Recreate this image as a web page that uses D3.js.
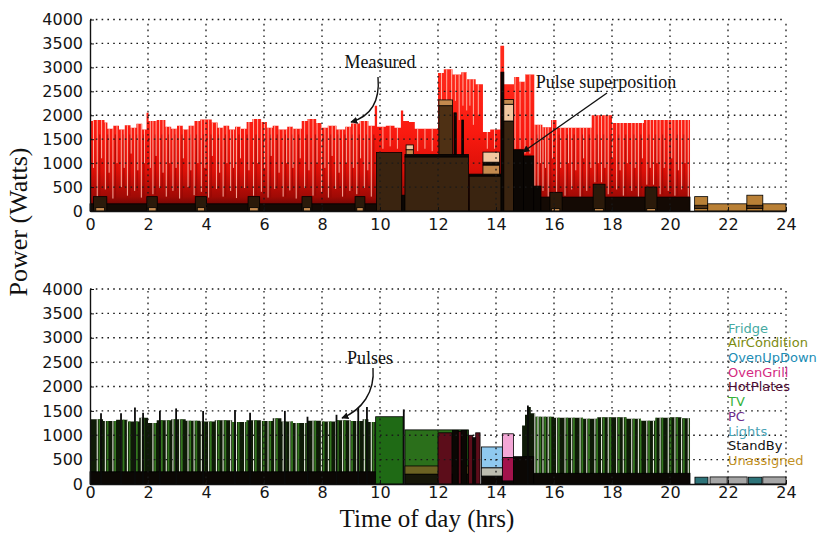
<!DOCTYPE html>
<html>
<head>
<meta charset="utf-8">
<script src="https://cdn.jsdelivr.net/npm/d3@7"></script>
<style>
body { margin: 0; background: #fff; }
svg { display: block; }
</style>
</head>
<body>
<div id="chart"></div>
<script>
var xTicks = [0, 2, 4, 6, 8, 10, 12, 14, 16, 18, 20, 22, 24];
var yTicks = [0, 500, 1000, 1500, 2000, 2500, 3000, 3500, 4000];

// measured power, step series [hour, watts]
var measured = [
    [0, 1880], [0.1, 1900], [0.5, 1850], [0.6, 1720], [0.8, 1780], [1.0, 1700], [1.2, 1790],
    [1.4, 1740], [1.6, 1820], [1.8, 1700], [1.95, 2050], [2.02, 1880], [2.3, 1900], [2.6, 1760],
    [2.8, 1720], [3.0, 1780], [3.2, 1700], [3.4, 1780], [3.6, 1880], [3.8, 1910], [4.2, 1850],
    [4.4, 1740], [4.6, 1780], [4.8, 1700], [5.0, 1760], [5.2, 1720], [5.4, 1860], [5.6, 1920],
    [5.9, 1860], [6.1, 1740], [6.3, 1780], [6.5, 1700], [6.8, 1760], [7.0, 1720], [7.3, 1880],
    [7.5, 1920], [7.8, 1840], [8.0, 1740], [8.2, 1780], [8.5, 1700], [8.8, 1760], [9.0, 1830],
    [9.3, 1880], [9.6, 1780], [9.82, 2200], [9.9, 1760], [10.2, 1780], [10.5, 1740], [10.72, 2100],
    [10.8, 1880], [11.0, 1860], [11.2, 1720], [12.0, 2880], [12.2, 2960], [12.5, 2850], [12.8, 2900],
    [13.0, 2750], [13.3, 2650], [13.55, 1650], [13.8, 1700], [14.15, 3450], [14.28, 2650],
    [14.62, 2800], [14.8, 2700], [15.0, 2850], [15.32, 1800], [15.6, 1750], [15.9, 1900],
    [16.1, 1740], [17.3, 2000], [18.0, 1840], [19.1, 1900], [20.69, 0]
];

// dips of the measured signal [hour, watts reached]
var measuredGaps = [
    [0.12, 900], [0.25, 300], [0.4, 1100], [0.53, 450], [0.66, 800], [0.79, 260], [0.93, 1000],
    [1.08, 500], [1.18, 900], [1.29, 320], [1.42, 1200], [1.54, 420], [1.65, 850], [1.77, 280],
    [1.88, 1000], [2.08, 900], [2.17, 350], [2.28, 1150], [2.40, 480], [2.52, 800], [2.63, 300],
    [2.75, 1000], [2.86, 420], [2.97, 900], [3.09, 260], [3.22, 1100], [3.38, 500], [3.48, 850],
    [3.59, 330], [3.72, 1000], [3.84, 400], [3.96, 900], [4.09, 280], [4.22, 1150], [4.36, 460],
    [4.47, 800], [4.59, 300], [4.72, 1000], [4.85, 420], [4.95, 900], [5.05, 270], [5.19, 1100],
    [5.33, 480], [5.48, 850], [5.64, 320], [5.78, 1000], [5.91, 400], [6.02, 900], [6.14, 280],
    [6.25, 1150], [6.37, 460], [6.52, 800], [6.66, 300], [6.78, 1000], [6.89, 430], [7.0, 900],
    [7.11, 260], [7.25, 1100], [7.40, 480], [7.55, 850], [7.69, 320], [7.83, 1000], [7.98, 400],
    [8.1, 900], [8.22, 280], [8.35, 1150], [8.47, 460], [8.59, 800], [8.71, 300], [8.84, 1000],
    [8.96, 420], [9.08, 900], [9.2, 350], [9.33, 1100], [9.46, 480], [9.58, 850], [9.7, 300],
    [10.1, 1300], [10.35, 1350], [10.6, 1300], [11.3, 1250], [11.55, 1300], [11.8, 1250],
    [12.12, 2300], [12.3, 2200], [12.47, 2000], [12.6, 2300], [12.73, 1900], [12.86, 2200],
    [12.99, 2100], [13.1, 2200], [13.22, 1800], [13.39, 2000], [13.7, 1300], [13.95, 1300],
    [14.66, 1300], [14.83, 1300], [15.0, 1200], [15.17, 1200], [15.34, 500],
    [15.45, 350], [15.53, 1000], [15.62, 420], [15.71, 900], [15.8, 300], [15.95, 1100],
    [16.09, 400], [16.23, 900], [16.38, 320], [16.5, 1000], [16.61, 450], [16.75, 850],
    [16.90, 300], [17.02, 1100], [17.13, 420], [17.27, 900], [17.41, 600], [17.53, 1000],
    [17.64, 600], [17.76, 900], [17.87, 350], [18.02, 1100], [18.16, 450], [18.28, 850],
    [18.39, 320], [18.53, 1000], [18.68, 420], [18.8, 900], [18.91, 300], [19.05, 1100],
    [19.20, 550], [19.32, 900], [19.43, 550], [19.55, 1000], [19.66, 350], [19.8, 900],
    [19.94, 420], [20.06, 1100], [20.17, 320], [20.29, 850], [20.40, 450], [20.52, 1000], [20.63, 300]
];

// superposed pulses, upper panel [from h, to h, from W, to W, kind]
var superposition = [
    [0, 9.88, 0, 150, "band"],
    [0.12, 0.58, 0, 300, "bump"], [1.96, 2.32, 0, 300, "bump"], [3.63, 4.02, 0, 300, "bump"],
    [5.45, 5.85, 0, 300, "bump"], [7.31, 7.65, 0, 300, "bump"], [9.14, 9.48, 0, 300, "bump"],
    [0.2, 0.5, 0, 70, "tan"], [2.0, 2.28, 0, 70, "tan"], [3.7, 3.95, 0, 70, "tan"],
    [5.5, 5.8, 0, 70, "tan"], [7.36, 7.6, 0, 70, "tan"], [9.2, 9.42, 0, 70, "tan"],
    [9.88, 10.75, 0, 1220, "dark"],
    [10.75, 10.86, 0, 330, "black"],
    [10.86, 13.05, 0, 1130, "dark"],
    [10.86, 13.05, 1130, 1180, "black"],
    [10.9, 11.15, 1180, 1280, "tan"],
    [10.9, 11.15, 1280, 1380, "peach"],
    [12.03, 12.5, 1180, 2200, "brown"],
    [12.03, 12.5, 2200, 2320, "tan"],
    [12.55, 12.63, 1180, 2050, "black"],
    [12.82, 12.88, 1180, 1900, "black"],
    [13.08, 14.2, 0, 730, "dark"],
    [13.08, 14.2, 730, 770, "black"],
    [13.55, 14.12, 770, 960, "tan"],
    [13.55, 14.12, 960, 1020, "black"],
    [13.55, 14.12, 1020, 1230, "peach"],
    [14.17, 14.27, 0, 2900, "black"],
    [14.27, 14.6, 0, 1880, "dark"],
    [14.27, 14.6, 1880, 2230, "peach"],
    [14.27, 14.6, 2230, 2330, "tan"],
    [14.6, 14.95, 0, 1280, "black"],
    [14.95, 15.3, 0, 1150, "black"],
    [15.3, 15.55, 0, 520, "black"],
    [15.55, 20.69, 0, 290, "band"],
    [15.86, 16.28, 0, 390, "bump"], [17.35, 17.76, 0, 560, "bump"], [19.14, 19.55, 0, 500, "bump"],
    [15.92, 16.2, 0, 50, "tan"], [17.4, 17.7, 0, 50, "tan"], [19.2, 19.5, 0, 50, "tan"],
    [20.85, 21.3, 0, 300, "gold"], [21.3, 22.65, 0, 150, "gold"],
    [22.65, 23.2, 0, 330, "gold"], [23.2, 24.0, 0, 150, "gold"],
    [20.85, 21.3, 50, 120, "brown"], [22.65, 23.2, 50, 120, "brown"]
];

// lower panel pulse envelope [hour, watts]
var pulses = [
    [0, 1330], [0.45, 1290], [0.9, 1320], [1.3, 1280], [1.7, 1360], [2.0, 1250], [2.3, 1310],
    [2.8, 1330], [3.3, 1300], [3.8, 1280], [4.3, 1310], [4.9, 1270], [5.4, 1310], [5.9, 1290],
    [6.3, 1350], [6.6, 1280], [7.0, 1250], [7.5, 1300], [8.0, 1280], [8.5, 1310], [9.0, 1290],
    [9.4, 1330], [9.6, 1270], [9.85, 0], [14.9, 1200], [15.0, 1420], [15.08, 1580], [15.2, 1450],
    [15.35, 1380], [16.0, 1360], [17.0, 1340], [17.5, 1370], [18.5, 1340], [19.0, 1300],
    [19.5, 1360], [20.0, 1370], [20.4, 1350], [20.69, 0]
];

var pulseSpikes = [
    [0.38, 1450], [1.07, 1450], [1.55, 1570], [1.83, 1460], [2.41, 1500], [2.97, 1550],
    [3.9, 1500], [5.0, 1520], [5.52, 1460], [6.72, 1500], [7.5, 1380], [8.5, 1420],
    [9.25, 1560], [9.55, 1580], [10.82, 1530], [15.1, 1610]
];

// appliance pulses, lower panel [from h, to h, from W, to W, kind]
var pulseBlocks = [
    [0, 9.85, 0, 250, "black"],
    [14.9, 20.69, 0, 220, "black"],
    [9.85, 10.8, 0, 1380, "green"],
    [10.86, 13.05, 0, 1110, "green2"],
    [10.86, 13.05, 200, 370, "olive"],
    [10.86, 13.05, 0, 200, "night"],
    [12.0, 12.48, 0, 1050, "maroon"],
    [12.5, 12.7, 0, 1100, "black"],
    [12.7, 12.8, 0, 1080, "maroon"],
    [12.8, 13.0, 0, 1100, "black"],
    [13.05, 13.2, 0, 1000, "maroon"],
    [13.2, 13.3, 0, 950, "black"],
    [13.3, 13.45, 0, 1050, "maroon"],
    [13.5, 14.22, 330, 760, "sky"],
    [13.5, 14.22, 160, 330, "ash"],
    [13.5, 14.22, 0, 160, "black"],
    [14.22, 14.6, 540, 1030, "pink"],
    [14.22, 14.6, 60, 540, "crimson"],
    [14.22, 14.6, 0, 60, "black"],
    [14.6, 15.3, 0, 560, "black"],
    [20.86, 21.31, 0, 140, "teal"],
    [21.38, 21.97, 0, 145, "grey"],
    [22.0, 22.66, 0, 145, "grey"],
    [22.7, 23.17, 0, 140, "teal"],
    [23.2, 24.0, 0, 145, "grey"]
];

var appliances = ["Fridge", "AirCondition", "OvenUpDown", "OvenGrill", "HotPlates",
    "TV", "PC", "Lights", "StandBy", "Unassigned"];

var applianceColors = ["#45a9a2", "#7c8c12", "#1b8db5", "#d42a82", "#4e0a33",
    "#34b23a", "#6c2c8c", "#4aa3b5", "#111111", "#c29125"];

var fills = {
    band: "#140a04", bump: "#2b1a0a", tan: "#c48a4e", dark: "#3a2410", black: "#0b0704",
    peach: "#f2c7a0", brown: "#4e3014", gold: "#b98036",
    green: "#1f6a15", green2: "#2b6f1b", olive: "#6b6222", night: "#161608",
    maroon: "#5c0d1a", crimson: "#a3134c", sky: "#8fc9ef", ash: "#bdbdb0",
    pink: "#f3a7d6", grey: "#a6a6a6", teal: "#2d7379"
};

var width = 823,
    height = 535;

var svg = d3.select('#chart')
    .append('svg')
    .attr('width', width)
    .attr('height', height)
    .style('background', '#fff');

var defs = svg.append('defs');

var x = d3.scaleLinear().domain([0, 24]).range([90, 786]);
var yTop = d3.scaleLinear().domain([0, 4000]).range([211, 19.5]);
var yBot = d3.scaleLinear().domain([0, 4000]).range([484, 289]);

// red gradient for the measured curve
var grad = defs.append('linearGradient')
    .attr('id', 'redFill')
    .attr('gradientUnits', 'userSpaceOnUse')
    .attr('x1', 0).attr('x2', 0)
    .attr('y1', yTop(3000)).attr('y2', yTop(0));
[[0, '#ff2a1c'], [0.45, '#fa1a10'], [0.72, '#dc1008'], [0.9, '#a00a05'], [1, '#500604']]
    .forEach(function(s) {
        grad.append('stop').attr('offset', s[0]).attr('stop-color', s[1]);
    });

defs.append('marker')
    .attr('id', 'arrow')
    .attr('viewBox', '0 0 10 10')
    .attr('refX', 9).attr('refY', 5)
    .attr('markerWidth', 7).attr('markerHeight', 7)
    .attr('markerUnits', 'userSpaceOnUse')
    .attr('orient', 'auto')
    .append('path')
    .attr('d', 'M0,0 L10,5 L0,10 z')
    .attr('fill', '#111');

function drawBlocks(g, data, y) {
    g.selectAll('rect.block')
        .data(data)
        .enter()
        .append('rect')
        .attr('class', 'block')
        .attr('x', function(d) { return x(d[0]); })
        .attr('y', function(d) { return y(d[3]); })
        .attr('width', function(d) { return x(d[1]) - x(d[0]); })
        .attr('height', function(d) { return y(d[2]) - y(d[3]); })
        .attr('fill', function(d) { return fills[d[4]]; })
        .attr('stroke', '#000')
        .attr('stroke-width', 0.8);
}

function drawGridAxes(y, pad) {
    var g = svg.append('g');
    g.selectAll('line.gy')
        .data(yTicks.filter(function(v) { return v > 0; }))
        .enter()
        .append('line')
        .attr('x1', x(0)).attr('x2', x(24))
        .attr('y1', function(d) { return y(d); })
        .attr('y2', function(d) { return y(d); });
    g.selectAll('line.gx')
        .data(xTicks.filter(function(v) { return v > 0; }))
        .enter()
        .append('line')
        .attr('x1', function(d) { return x(d); })
        .attr('x2', function(d) { return x(d); })
        .attr('y1', y(0)).attr('y2', y(4000));
    g.selectAll('line')
        .attr('stroke', '#1a1a1a')
        .attr('stroke-width', 1.3)
        .attr('stroke-dasharray', '1.6,4.2');

    var ay = svg.append('g')
        .attr('transform', 'translate(' + x(0) + ',0)')
        .call(d3.axisLeft(y).tickValues(yTicks).tickFormat(d3.format('d'))
            .tickSizeInner(-4).tickSizeOuter(0).tickPadding(7));
    var ax = svg.append('g')
        .attr('transform', 'translate(0,' + y(0) + ')')
        .call(d3.axisBottom(x).tickValues(xTicks).tickFormat(d3.format('d'))
            .tickSizeInner(-4).tickSizeOuter(0).tickPadding(pad));
    [ay, ax].forEach(function(a) {
        a.select('.domain').attr('stroke', '#111').attr('stroke-width', 1.4);
        a.selectAll('.tick line').attr('stroke', '#111');
        a.selectAll('.tick text')
            .attr('fill', '#151515')
            .style('font-family', '"DejaVu Sans", sans-serif')
            .style('font-size', '16px');
    });
    ax.selectAll('.tick text').attr('dy', '0.8em');
}

// ---------- upper panel ----------
var areaTop = d3.area()
    .curve(d3.curveStepAfter)
    .x(function(d) { return x(d[0]); })
    .y0(yTop(0))
    .y1(function(d) { return yTop(d[1]); });

defs.append('clipPath').attr('id', 'clipMeasured')
    .append('path').attr('d', areaTop(measured));

var topPanel = svg.append('g');
topPanel.append('path')
    .attr('d', areaTop(measured))
    .attr('fill', 'url(#redFill)');

var deepGaps = measuredGaps.filter(function(d) { return d[1] < 700; });

var topGaps = topPanel.append('g').attr('clip-path', 'url(#clipMeasured)');
topGaps.selectAll('line.dark')
    .data(deepGaps)
    .enter()
    .append('line')
    .attr('x1', function(d) { return x(d[0]) + 2.5; })
    .attr('x2', function(d) { return x(d[0]) + 2.5; })
    .attr('y1', yTop(1600))
    .attr('y2', function(d) { return yTop(d[1]); })
    .attr('stroke', '#8a0604')
    .attr('stroke-opacity', 0.55)
    .attr('stroke-width', 1.2);
topGaps.selectAll('line.gap')
    .data(measuredGaps)
    .enter()
    .append('line')
    .attr('x1', function(d) { return x(d[0]); })
    .attr('x2', function(d) { return x(d[0]); })
    .attr('y1', yTop(3600))
    .attr('y2', function(d) { return yTop(d[1]); })
    .attr('stroke', '#ffc0b0')
    .attr('stroke-opacity', 0.9)
    .attr('stroke-width', 1);

drawBlocks(topPanel.append('g'), superposition, yTop);
drawGridAxes(yTop, 6);

// ---------- lower panel ----------
var areaBot = d3.area()
    .curve(d3.curveStepAfter)
    .x(function(d) { return x(d[0]); })
    .y0(yBot(0))
    .y1(function(d) { return yBot(d[1]); });

defs.append('clipPath').attr('id', 'clipPulses')
    .append('path').attr('d', areaBot(pulses));

var botPanel = svg.append('g');
botPanel.append('path')
    .attr('d', areaBot(pulses))
    .attr('fill', '#0e1a07');

var botGaps = botPanel.append('g').attr('clip-path', 'url(#clipPulses)');
var pulseGaps = deepGaps.filter(function(d) { return d[0] < 9.85 || d[0] > 14.95; });
botGaps.selectAll('line.green')
    .data(pulseGaps)
    .enter()
    .append('line')
    .attr('x1', function(d) { return x(d[0]) + 2.2; })
    .attr('x2', function(d) { return x(d[0]) + 2.2; })
    .attr('y1', yBot(1600))
    .attr('y2', yBot(0))
    .attr('stroke', '#33761f')
    .attr('stroke-width', 1.8);
botGaps.selectAll('line.gap')
    .data(pulseGaps)
    .enter()
    .append('line')
    .attr('x1', function(d) { return x(d[0]); })
    .attr('x2', function(d) { return x(d[0]); })
    .attr('y1', yBot(1600))
    .attr('y2', yBot(0))
    .attr('stroke', '#e4eadc')
    .attr('stroke-width', 1.1);

drawBlocks(botPanel.append('g'), pulseBlocks, yBot);

botPanel.selectAll('line.spike')
    .data(pulseSpikes)
    .enter()
    .append('line')
    .attr('x1', function(d) { return x(d[0]); })
    .attr('x2', function(d) { return x(d[0]); })
    .attr('y1', yBot(0))
    .attr('y2', function(d) { return yBot(d[1]); })
    .attr('stroke', '#0a0a0a')
    .attr('stroke-width', 1.8);

drawGridAxes(yBot, 1);

// legend
svg.append('g').selectAll('text')
    .data(appliances)
    .enter()
    .append('text')
    .attr('x', 728)
    .attr('y', function(d, i) { return 328 + i * 14.7; })
    .attr('dy', '0.36em')
    .attr('fill', function(d, i) { return applianceColors[i]; })
    .style('font-family', '"DejaVu Sans", sans-serif')
    .style('font-size', '13px')
    .text(function(d) { return d; });

// annotations
var serif = '"Liberation Serif", "Times New Roman", serif';
function note(txt, tx, ty) {
    svg.append('text')
        .attr('x', tx).attr('y', ty)
        .attr('text-anchor', 'middle')
        .style('font-family', serif)
        .style('font-size', '18px')
        .attr('fill', '#111')
        .text(txt);
}
note('Measured', 380, 68);
note('Pulse superposition', 606, 88);
note('Pulses', 370, 364);

function arrow(d) {
    svg.append('path')
        .attr('d', d)
        .attr('fill', 'none')
        .attr('stroke', '#111')
        .attr('stroke-width', 1.4)
        .attr('marker-end', 'url(#arrow)');
}
arrow('M378,77 C380,100 372,116 351,122');
arrow('M607,93 L523,152');
arrow('M373,368 C375,392 362,410 342,418');

// axis titles
svg.append('text')
    .attr('transform', 'translate(27,222) rotate(-90)')
    .attr('text-anchor', 'middle')
    .style('font-family', serif)
    .style('font-size', '26px')
    .attr('fill', '#111')
    .text('Power (Watts)');

svg.append('text')
    .attr('x', 427).attr('y', 527)
    .attr('text-anchor', 'middle')
    .style('font-family', serif)
    .style('font-size', '25px')
    .attr('fill', '#111')
    .text('Time of day (hrs)');
</script>
</body>
</html>
